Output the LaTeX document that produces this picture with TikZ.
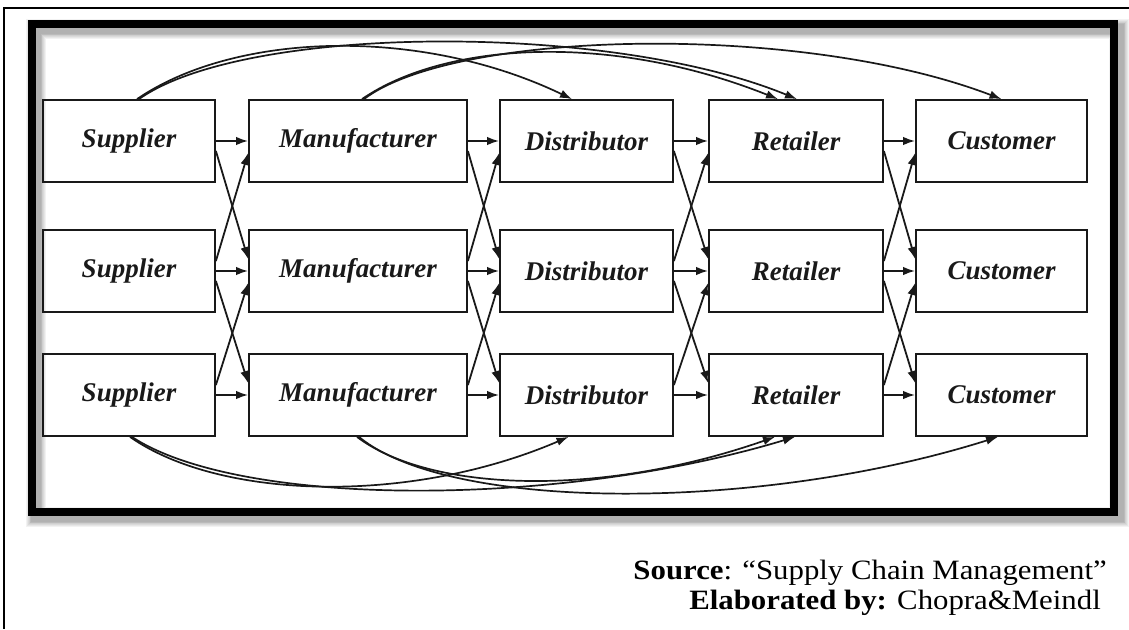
\documentclass[tikz,border=0pt]{standalone}
\usepackage{fontspec}
\setmainfont{Liberation Serif}
\newfontfamily\citefont[FakeStretch=1.1]{Liberation Serif}
\usetikzlibrary{arrows.meta}

\begin{document}
\begin{tikzpicture}[x=1pt,y=-1pt,
  stage/.style={draw=black!90,line width=1.8pt,minimum width=#1,minimum height=82pt,
    inner sep=0pt,font=\fontsize{27}{30}\selectfont\bfseries\itshape,text=black!90},
  flow/.style={draw=black!90,line width=1.8pt,-{Latex[length=12pt,width=8.5pt]}},
  arc/.style={flow,line width=1.7pt},
  cite/.style={anchor=base east,font=\citefont\fontsize{28}{30}\selectfont,inner sep=0pt}]

\useasboundingbox (0,0) rectangle (1129,629);

% outer page rule (top and left)
\draw[line width=2pt] (1129,8) -- (4,8) -- (4,629);

% soft shadow of the framed figure
\foreach \i in {1,...,7}
  \draw[black,opacity=0.05,line width={8pt+1.6pt*\i}] (36,29) rectangle (1119,517);
% thick frame
\draw[line width=8pt] (32,24) rectangle (1114,512);

% stages: five columns, three rows
\foreach \r/\y in {1/141,2/271,3/395}{
  \node[stage=172pt] (s\r) at (129,\y) {Supplier};
  \node[stage=218pt] (m\r) at (358,\y) {Manufacturer};
  \node[stage=173pt] (d\r) at (586.5,\y) {Distributor};
  \node[stage=174pt] (r\r) at (796,\y) {Retailer};
  \node[stage=171pt] (c\r) at (1001.5,\y) {Customer};
}

% links between neighbouring columns: straight and crossed
\foreach \a/\b in {s/m,m/d,d/r,r/c}{
  \foreach \r in {1,2,3}
    \draw[flow] (\a\r.east) -- (\b\r.west);
  \foreach \u/\l in {1/2,2/3}{
    \draw[flow] ([yshift=-10pt]\a\u.east) -- ([yshift=12pt]\b\l.west);
    \draw[flow] ([yshift=10pt]\a\l.east) -- ([yshift=-12pt]\b\u.west);
  }
}

% long-range links over the top row
\draw[arc] ([xshift=8pt]s1.north) .. controls (235,32) and (420,26) .. ([xshift=-14.5pt]d1.north);
\draw[arc] ([xshift=10pt]s1.north) .. controls (245,24) and (610,22) .. ([xshift=1pt]r1.north);
\draw[arc] ([xshift=4pt]m1.north) .. controls (445,42) and (610,32) .. ([xshift=-18pt]r1.north);
\draw[arc] ([xshift=6pt]m1.north) .. controls (455,30) and (800,22) .. (c1.north);

% long-range links under the bottom row
\draw[arc] ([xshift=1pt]s3.south) .. controls (220,500) and (410,505) .. ([xshift=-18pt]d3.south);
\draw[arc] ([xshift=3pt]s3.south) .. controls (240,508) and (560,508) .. ([xshift=-1pt]r3.south);
\draw[arc] ([xshift=-1pt]m3.south) .. controls (430,492) and (600,498) .. ([xshift=-21pt]r3.south);
\draw[arc] ([xshift=1pt]m3.south) .. controls (450,512) and (760,512) .. ([xshift=-3.5pt]c3.south);

% citation
\node[cite] (src) at (1107,579) {\textbf{Source}: “Supply Chain Management”};
\node[cite] (ela) at (1101,609) {\textbf{Elaborated by:} Chopra\&Meindl};
\end{tikzpicture}
\end{document}
